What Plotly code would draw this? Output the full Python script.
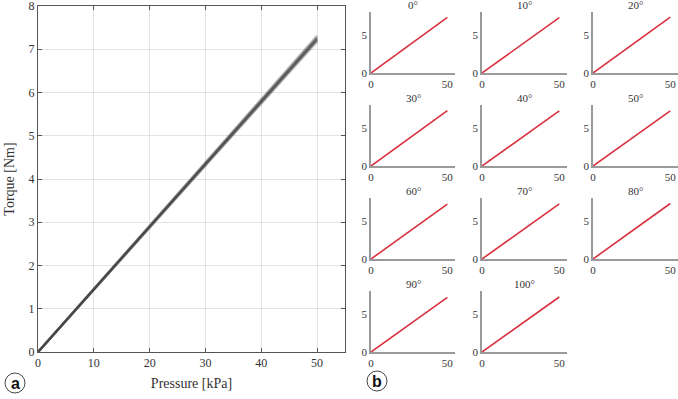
import plotly.graph_objects as go

W, H = 678, 399

# ---------------- data ----------------
angles = [0, 10, 20, 30, 40, 50, 60, 70, 80, 90, 100]
angle_labels = ["0°", "10°", "20°", "30°", "40°", "50°", "60°", "70°", "80°", "90°", "100°"]
pressure_kpa = [0, 10, 20, 30, 40, 50]
torque_0 = [0, 1.46, 2.92, 4.37, 5.83, 7.29]
torque_10 = [0, 1.45, 2.91, 4.36, 5.81, 7.26]
torque_20 = [0, 1.46, 2.93, 4.39, 5.86, 7.32]
torque_30 = [0, 1.45, 2.90, 4.35, 5.80, 7.25]
torque_40 = [0, 1.44, 2.89, 4.33, 5.78, 7.22]
torque_50 = [0, 1.45, 2.90, 4.34, 5.79, 7.24]
torque_60 = [0, 1.44, 2.88, 4.32, 5.76, 7.20]
torque_70 = [0, 1.45, 2.89, 4.34, 5.78, 7.23]
torque_80 = [0, 1.46, 2.91, 4.37, 5.82, 7.28]
torque_90 = [0, 1.43, 2.87, 4.30, 5.74, 7.17]
torque_100 = [0, 1.44, 2.89, 4.33, 5.77, 7.21]
torques = [torque_0, torque_10, torque_20, torque_30, torque_40, torque_50,
           torque_60, torque_70, torque_80, torque_90, torque_100]

main_xticks = [0, 10, 20, 30, 40, 50]
main_yticks = [0, 1, 2, 3, 4, 5, 6, 7, 8]
small_xticks = [0, 50]
small_yticks = [0, 5]

SERIF = "Liberation Serif"

def px_x(a, b):
    return [a / W, b / W]

def px_y(top, bottom):
    return [1 - bottom / H, 1 - top / H]

fig = go.Figure()

# ---- main panel (a) ----
for t in torques:
    fig.add_trace(go.Scatter(x=pressure_kpa, y=t, mode="lines",
                             line=dict(color="rgba(55,55,55,0.2)", width=2.4),
                             xaxis="x", yaxis="y", showlegend=False, hoverinfo="skip"))

layout = dict(
    width=W, height=H, margin=dict(l=0, r=0, t=0, b=0, autoexpand=False),
    paper_bgcolor="white", plot_bgcolor="white", showlegend=False,
    font=dict(family=SERIF, color="#333"),
)
layout["xaxis"] = dict(domain=px_x(38, 345), range=[0, 55], tickvals=main_xticks,
                       showgrid=True, gridcolor="#e3e3e3", gridwidth=1,
                       showline=True, linecolor="#555", linewidth=1, mirror="ticks",
                       ticks="inside", ticklen=4, tickcolor="#555",
                       zeroline=False, tickfont=dict(size=12, family=SERIF, color="#333"),
                       ticklabeloverflow="allow",
                       title=dict(text="Pressure [kPa]", font=dict(size=14, family=SERIF, color="#333"),
                                  standoff=8),
                       automargin=False, anchor="y")
layout["yaxis"] = dict(domain=px_y(6, 352), range=[0, 8], tickvals=main_yticks,
                       showgrid=True, gridcolor="#e3e3e3", gridwidth=1,
                       showline=True, linecolor="#555", linewidth=1, mirror="ticks",
                       ticks="inside", ticklen=4, tickcolor="#555",
                       zeroline=False, tickfont=dict(size=12, family=SERIF, color="#333"),
                       ticklabeloverflow="allow",
                       title=dict(text="Torque [Nm]", font=dict(size=14, family=SERIF, color="#333"),
                                  standoff=10),
                       automargin=False, anchor="x")

# ---- small panels (b) ----
cols = [(371, 455), (482, 567), (593, 678)]
rows = [(12, 73), (105, 166), (198, 259), (291, 352)]
annotations = []
for i, (ang, lab, t) in enumerate(zip(angles, angle_labels, torques)):
    r, c = divmod(i, 3)
    k = i + 2
    xa, ya = f"x{k}", f"y{k}"
    fig.add_trace(go.Scatter(x=pressure_kpa, y=t, mode="lines",
                             line=dict(color="#d9303f", width=1.6),
                             xaxis=xa, yaxis=ya, showlegend=False, hoverinfo="skip"))
    layout[f"xaxis{k}"] = dict(domain=px_x(*cols[c]), range=[0, 55], tickvals=small_xticks,
                               showgrid=False, zeroline=False, showline=True,
                               linecolor="#9a9a9a", linewidth=1.6, ticks="",
                               tickfont=dict(size=11, family=SERIF, color="#333"),
                               ticklabeloverflow="allow",
                               automargin=False, anchor=ya)
    layout[f"yaxis{k}"] = dict(domain=px_y(*rows[r]), range=[0, 8], tickvals=small_yticks,
                               showgrid=False, zeroline=False, showline=True,
                               linecolor="#9a9a9a", linewidth=1.6, ticks="",
                               tickfont=dict(size=11, family=SERIF, color="#333"),
                               ticklabeloverflow="allow",
                               automargin=False, anchor=xa)
    x0, x1 = cols[c]
    annotations.append(dict(text=lab, x=(x0 + 0.5 * (x1 - x0)) / W,
                            y=1 - (rows[r][0] - 7) / H, xref="paper", yref="paper",
                            showarrow=False, font=dict(size=11, family=SERIF, color="#333"),
                            xanchor="center", yanchor="middle"))

# panel letters
shapes = []
for letter, cx, cy in [("a", 15, 383), ("b", 377, 381)]:
    shapes.append(dict(type="circle", xref="paper", yref="paper",
                       x0=(cx - 10) / W, x1=(cx + 10) / W,
                       y0=1 - (cy + 10) / H, y1=1 - (cy - 10) / H,
                       line=dict(color="#444", width=1)))
    annotations.append(dict(text=f"<b>{letter}</b>", x=cx / W, y=1 - cy / H,
                            xref="paper", yref="paper", showarrow=False,
                            font=dict(size=16, family="Liberation Sans", color="#111"),
                            xanchor="center", yanchor="middle"))

layout["annotations"] = annotations
layout["shapes"] = shapes
fig.update_layout(**layout)
fig.write_html("out.html", config={"displayModeBar": False},
               post_script="document.body.style.margin='0';")
